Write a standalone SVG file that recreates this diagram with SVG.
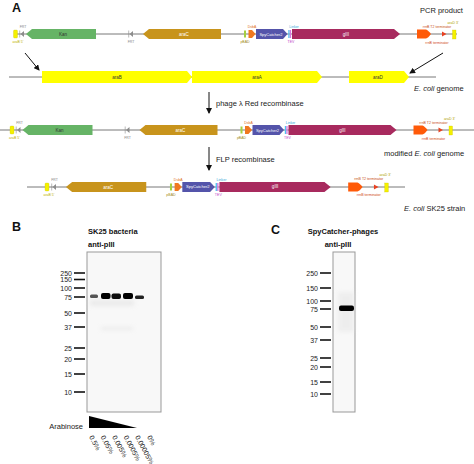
<svg xmlns="http://www.w3.org/2000/svg" width="474" height="464" viewBox="0 0 474 464">
<defs>
<style>
text{font-family:"Liberation Sans",Arial,sans-serif}
.lbl{font-size:7.5px;fill:#1a1a1a}
.hd{font-size:7.5px;font-weight:bold;fill:#111}
.pn{font-size:12.5px;font-weight:bold;fill:#111}
.tn{font-size:3.5px;text-anchor:middle}
.gl{font-size:4.5px;text-anchor:middle;fill:#fff}
.gd{font-size:4.5px;text-anchor:middle;fill:#333}
.mk{font-size:7px;text-anchor:end;fill:#222}
.tk{stroke:#111;stroke-width:1.6}
.bb{stroke:#555;stroke-width:0.8}
.con{stroke:#111;stroke-width:1;fill:none;marker-end:url(#ah)}
.yel{fill:#f4f000;stroke:#c9c000;stroke-width:0.3}
.blot{fill:#f8f8f8;stroke:#999;stroke-width:1}
.lane{font-size:7px;fill:#222}
</style>
<marker id="ah" markerWidth="6" markerHeight="6" refX="5" refY="3" orient="auto" markerUnits="userSpaceOnUse"><path d="M0,0 L6,3 L0,6 Z" fill="#111"/></marker>
<filter id="bl" x="-50%" y="-100%" width="200%" height="300%"><feGaussianBlur stdDeviation="0.7"/></filter>
<filter id="bl2" x="-100%" y="-100%" width="300%" height="300%"><feGaussianBlur stdDeviation="2"/></filter>
<g id="frt"><path d="M-1.5,0 L2,-3 L2,3 Z" fill="#8c8c8c"/><line x1="-2.3" y1="-3.5" x2="-2.3" y2="3.5" stroke="#8c8c8c" stroke-width="0.6"/></g>
<g id="cassL">
<rect x="13.5" y="30" width="4" height="8" rx="1" class="yel"/>
<text class="tn" x="18" y="42.5" fill="#bdb000">araB 5'</text>
<use href="#frt" x="22" y="34"/>
<text class="tn" x="23" y="28" fill="#888">FRT</text>
<path d="M26,34 L32,29 L96,29 L96,39 L32,39 Z" fill="#66b466"/>
<text class="gd" x="63" y="35.6">Kan</text>
<use href="#frt" x="131" y="34"/>
<text class="tn" x="131" y="43" fill="#888">FRT</text>
</g>
<g id="cassR">
<path d="M143,34 L149,29 L221,29 L221,39 L149,39 Z" fill="#c8941c"/>
<text class="gl" x="184" y="35.6">araC</text>
<rect x="244" y="30.5" width="2" height="7" fill="#a5d040"/>
<text class="tn" x="245" y="43" fill="#a08a20">pBAD</text>
<path d="M248.5,30 L252,30 L255.5,34 L252,38 L248.5,38 Z" fill="#f07820"/>
<text class="tn" x="252" y="28" fill="#e07020">DsbA</text>
<path d="M256,29 L283,29 L287.5,34 L283,39 L256,39 Z" fill="#5454aa"/>
<text class="gl" x="271" y="35.5" style="font-size:4px">SpyCatcher2</text>
<rect x="288.3" y="30" width="1.3" height="8" fill="#50c0f0"/>
<rect x="289.8" y="30" width="1.3" height="8" fill="#d878e0"/>
<text class="tn" x="294" y="28" fill="#30a8d8">Linker</text>
<text class="tn" x="291" y="43" fill="#c048c8">TEV</text>
<path d="M292,29 L394,29 L400,34 L394,39 L292,39 Z" fill="#a82a5e"/>
<text class="gl" x="346" y="35.5">gIII</text>
<path d="M417,29.5 L426,29.5 Q428,30 431,34 Q428,38 426,38.5 L417,38.5 Z" fill="#ff5a08"/>
<text class="tn" x="437" y="43.5" fill="#d04818">rrnB terminator</text>
<path d="M442,31.5 L446.5,34 L442,36.5 Z" fill="#e84020"/>
<text class="tn" x="437" y="27.5" fill="#c85018">rrnB T2 terminator</text>
<rect x="452.5" y="30" width="3.5" height="9" class="yel"/>
<text class="tn" x="453" y="23.5" fill="#b0a000">araD 3'</text>
</g>
</defs>
<rect width="474" height="464" fill="#fff"/>

<g id="panelA">
<text class="pn" x="12" y="12">A</text>
<g id="row1">
<line x1="14" y1="34" x2="457" y2="34" class="bb"/>
<use href="#cassL"/>
<use href="#cassR"/>
<text class="lbl" x="420" y="13">PCR product</text>
</g>
<g id="row2">
<line x1="9" y1="77" x2="436" y2="77" class="bb"/>
<path d="M42,71 L187,71 L192,77 L187,83 L42,83 Z" fill="#ffff00"/>
<text class="gd" x="117" y="78.6">araB</text>
<path d="M192,71 L317,71 L322,77 L317,83 L192,83 Z" fill="#ffff00"/>
<text class="gd" x="257" y="78.6">araA</text>
<path d="M349,71 L404,71 L409,77 L404,83 L349,83 Z" fill="#ffff00"/>
<text class="gd" x="378" y="78.6">araD</text>
<text class="lbl" x="414" y="91"><tspan font-style="italic">E. coli</tspan> genome</text>
</g>
<g id="row3">
<line x1="0" y1="130" x2="474" y2="130" class="bb"/>
<use href="#cassL" transform="translate(-3.5,96)"/>
<use href="#cassR" transform="translate(-3.5,96)"/>
<text class="lbl" x="384" y="156">modified <tspan font-style="italic">E. coli</tspan> genome</text>
</g>
<g id="row4">
<line x1="27" y1="187" x2="405" y2="187" class="bb"/>
<rect x="45" y="183" width="4" height="8" rx="1" class="yel"/>
<text class="tn" x="49" y="195.5" fill="#bdb000">araB 5'</text>
<use href="#frt" x="54" y="187"/>
<text class="tn" x="54.5" y="181" fill="#888">FRT</text>
<use href="#cassR" transform="translate(-81.35,153) scale(1.03,1)"/>
<text class="lbl" x="404" y="211"><tspan font-style="italic">E. coli</tspan> SK25 strain</text>
</g>
<g id="connectors">
<line x1="25" y1="53" x2="39" y2="70" class="con"/>
<line x1="443" y1="53" x2="410" y2="73" class="con"/>
<line x1="209" y1="92" x2="209" y2="113" class="con"/>
<line x1="209" y1="147" x2="209" y2="170" class="con"/>
</g>
<text class="lbl" x="216" y="106">phage λ Red recombinase</text>
<text class="lbl" x="216" y="162">FLP recombinase</text>
</g>

<g id="panelB">
<text class="pn" x="12" y="231">B</text>
<text class="hd" x="88" y="233.5">SK25 bacteria</text>
<text class="hd" x="88" y="246.5">anti-pIII</text>
<rect x="87" y="252" width="74" height="160" class="blot"/>
<g id="markersB">
<text class="mk" x="72" y="275.5">250</text><line x1="74" y1="273" x2="85" y2="273" class="tk"/>
<text class="mk" x="72" y="282">150</text><line x1="74" y1="279.5" x2="85" y2="279.5" class="tk"/>
<text class="mk" x="72" y="290.5">100</text><line x1="74" y1="288" x2="85" y2="288" class="tk"/>
<text class="mk" x="72" y="299.5">75</text><line x1="74" y1="297" x2="85" y2="297" class="tk"/>
<text class="mk" x="72" y="315.5">50</text><line x1="74" y1="313" x2="85" y2="313" class="tk"/>
<text class="mk" x="72" y="329.5">37</text><line x1="74" y1="327" x2="85" y2="327" class="tk"/>
<text class="mk" x="72" y="350.5">25</text><line x1="74" y1="348" x2="85" y2="348" class="tk"/>
<text class="mk" x="72" y="361.5">20</text><line x1="74" y1="359" x2="85" y2="359" class="tk"/>
<text class="mk" x="72" y="376.5">15</text><line x1="74" y1="374" x2="85" y2="374" class="tk"/>
<text class="mk" x="72" y="394.5">10</text><line x1="74" y1="392" x2="85" y2="392" class="tk"/>
</g>
<g id="bandsB">
<g filter="url(#bl2)" fill="#ddd" opacity="0.5">
<rect x="90" y="300" width="44" height="6"/>
<rect x="101" y="327" width="32" height="3"/>
</g>
<g filter="url(#bl)">
<rect x="90" y="294.5" width="8" height="3.5" rx="1.5" fill="#555"/>
<rect x="101" y="293" width="9.5" height="6" rx="2" fill="#000"/>
<rect x="111.5" y="293.5" width="9.5" height="5.5" rx="2" fill="#080808"/>
<rect x="123" y="293" width="10" height="6" rx="2" fill="#000"/>
<rect x="135" y="295.5" width="9" height="3.5" rx="1.5" fill="#222"/>
</g>
</g>
<path d="M89,416 L137,428 L89,428 Z" fill="#000"/>
<text class="lbl" x="83" y="429" text-anchor="end">Arabinose</text>
<g id="lanes">
<text class="lane" transform="translate(89,437) rotate(62)">0.5%</text>
<text class="lane" transform="translate(100.5,437) rotate(62)">0.05%</text>
<text class="lane" transform="translate(112,437) rotate(62)">0.005%</text>
<text class="lane" transform="translate(123.5,437) rotate(62)">0.0005%</text>
<text class="lane" transform="translate(135,437) rotate(62)">0.00005%</text>
<text class="lane" transform="translate(147,437) rotate(62)">0%</text>
</g>
</g>

<g id="panelC">
<text class="pn" x="271" y="234">C</text>
<text class="hd" x="343" y="233.5" text-anchor="middle">SpyCatcher-phages</text>
<text class="hd" x="338" y="246.5" text-anchor="middle">anti-pIII</text>
<rect x="333" y="252" width="22" height="160" class="blot"/>
<g id="markersC">
<text class="mk" x="318" y="275.5">250</text><line x1="320" y1="273" x2="331" y2="273" class="tk"/>
<text class="mk" x="318" y="290.5">150</text><line x1="320" y1="288" x2="331" y2="288" class="tk"/>
<text class="mk" x="318" y="303.5">100</text><line x1="320" y1="301" x2="331" y2="301" class="tk"/>
<text class="mk" x="318" y="311.5">75</text><line x1="320" y1="309" x2="331" y2="309" class="tk"/>
<text class="mk" x="318" y="329.5">50</text><line x1="320" y1="327" x2="331" y2="327" class="tk"/>
<text class="mk" x="318" y="342.5">37</text><line x1="320" y1="340" x2="331" y2="340" class="tk"/>
<text class="mk" x="318" y="360.5">25</text><line x1="320" y1="358" x2="331" y2="358" class="tk"/>
<text class="mk" x="318" y="369.5">20</text><line x1="320" y1="367" x2="331" y2="367" class="tk"/>
<text class="mk" x="318" y="384.5">15</text><line x1="320" y1="382" x2="331" y2="382" class="tk"/>
<text class="mk" x="318" y="396.5">10</text><line x1="320" y1="394" x2="331" y2="394" class="tk"/>
</g>
<g id="bandC">
<rect x="338" y="292" width="16" height="40" fill="#e4e4e4" opacity="0.5" filter="url(#bl2)"/>
<rect x="339" y="305.5" width="15" height="5.5" rx="2" fill="#000" filter="url(#bl)"/>
</g>
</g>
</svg>
